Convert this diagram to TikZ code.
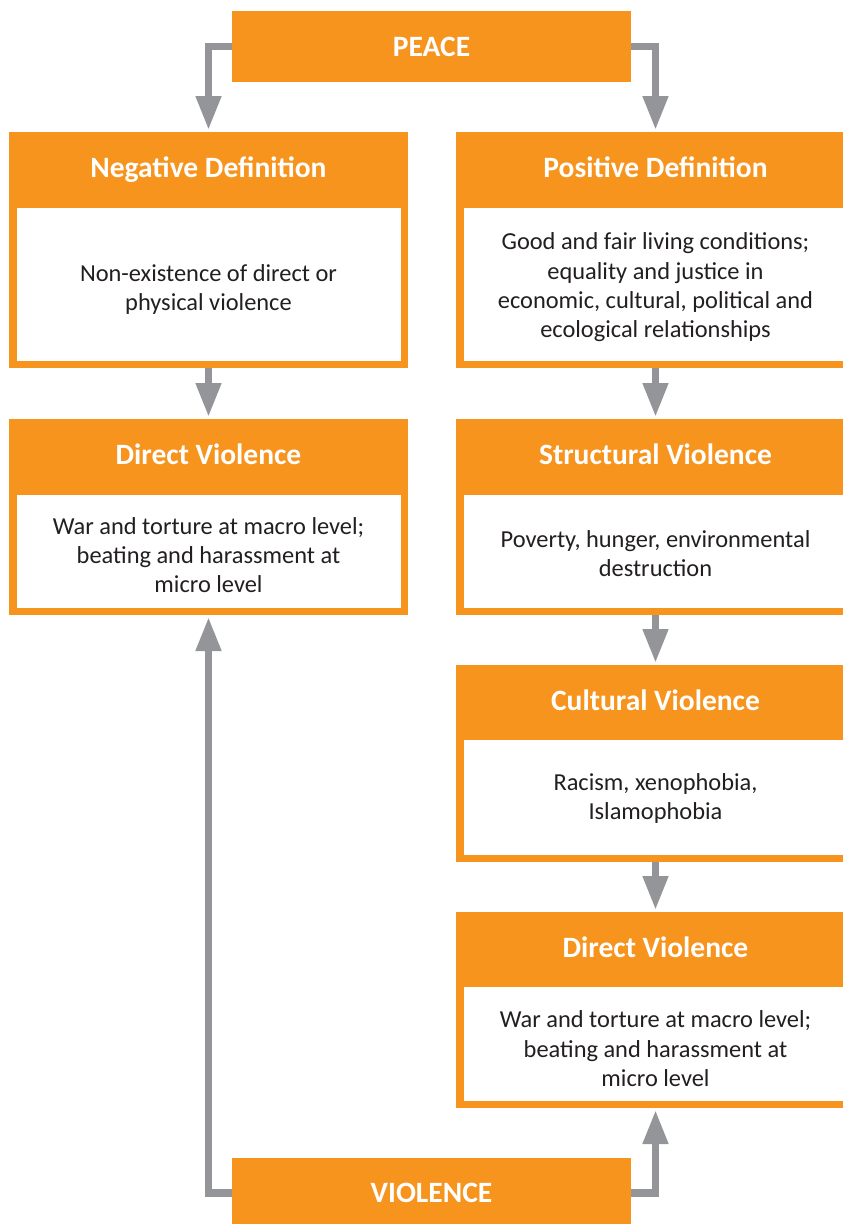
\documentclass[tikz,border=0pt]{standalone}
\usepackage{fontspec}
\setmainfont{Carlito}
\usetikzlibrary{arrows.meta}
\definecolor{org}{HTML}{F7941E}
\definecolor{gry}{HTML}{939598}
\definecolor{txt}{HTML}{231F20}
\tikzset{
  hdr/.style={fill=org, text=white, minimum width=399pt, minimum height=71pt, inner sep=0pt, outer sep=0pt,
    text height=19pt, text depth=0pt, font=\fontsize{29.5}{34}\selectfont\bfseries},
  bodybox/.style={fill=white, draw=org, line width=7.5pt, minimum width=391.5pt, inner sep=0pt},
  bodytext/.style={align=center, text=txt, inner sep=0pt, font=\fontsize{24.4}{29.2}\selectfont},
  conn/.style={draw=gry, line width=7.5pt, -{Triangle[width=24pt,length=34pt]}, shorten >=2pt}
}
\begin{document}
\begin{tikzpicture}[x=1pt,y=-1pt]
\useasboundingbox (0,0) rectangle (843,1224);
\clip (0,0) rectangle (843,1224);
% top / bottom
\node[hdr] (peace) at (431.5,46.5) {PEACE};
\node[hdr] (viol) at (431.5,1193) {VIOLENCE};
% left column
\node[hdr, anchor=north west] (negh) at (9,132) {Negative Definition};
\node[bodybox, minimum height=160pt] (negb) at (208.5,284.25) {};
\node[bodytext, yshift=-5pt] (negt) at (negb.center) {Non-existence of direct or\\physical violence};
\node[hdr, anchor=north west] (ldvh) at (9,419) {Direct Violence};
\node[bodybox, minimum height=120pt] (ldvb) at (208.5,551.25) {};
\node[bodytext, yshift=-4pt] (ldvt) at (ldvb.center) {War and torture at macro level;\\beating and harassment at\\micro level};
% right column
\node[hdr, anchor=north west] (posh) at (456,132) {Positive Definition};
\node[bodybox, minimum height=160pt] (posb) at (655.5,284.25) {};
\node[bodytext, yshift=-3pt] (post) at (posb.center) {Good and fair living conditions;\\equality and justice in\\economic, cultural, political and\\ecological relationships};
\node[hdr, anchor=north west] (strh) at (456,419) {Structural Violence};
\node[bodybox, minimum height=120pt] (strb) at (655.5,551.25) {};
\node[bodytext, yshift=-2pt] (strt) at (strb.center) {Poverty, hunger, environmental\\destruction};
\node[hdr, anchor=north west] (culh) at (456,665) {Cultural Violence};
\node[bodybox, minimum height=122pt] (culb) at (655.5,797.25) {};
\node[bodytext, yshift=-1pt] (cult) at (culb.center) {Racism, xenophobia,\\Islamophobia};
\node[hdr, anchor=north west] (rdvh) at (456,912) {Direct Violence};
\node[bodybox, minimum height=121pt] (rdvb) at (655.5,1043.75) {};
\node[bodytext, yshift=-5pt] (rdvt) at (rdvb.center) {War and torture at macro level;\\beating and harassment at\\micro level};
% connectors
\draw[conn] (peace.west) -| (negh.north);
\draw[conn] (peace.east) -| (posh.north);
\draw[conn] (negb.south) -- (ldvh.north);
\draw[conn] (posb.south) -- (strh.north);
\draw[conn] (strb.south) -- (culh.north);
\draw[conn] (culb.south) -- (rdvh.north);
\draw[conn] (viol.west) -| (ldvb.south);
\draw[conn] (viol.east) -| (rdvb.south);
\end{tikzpicture}
\end{document}
